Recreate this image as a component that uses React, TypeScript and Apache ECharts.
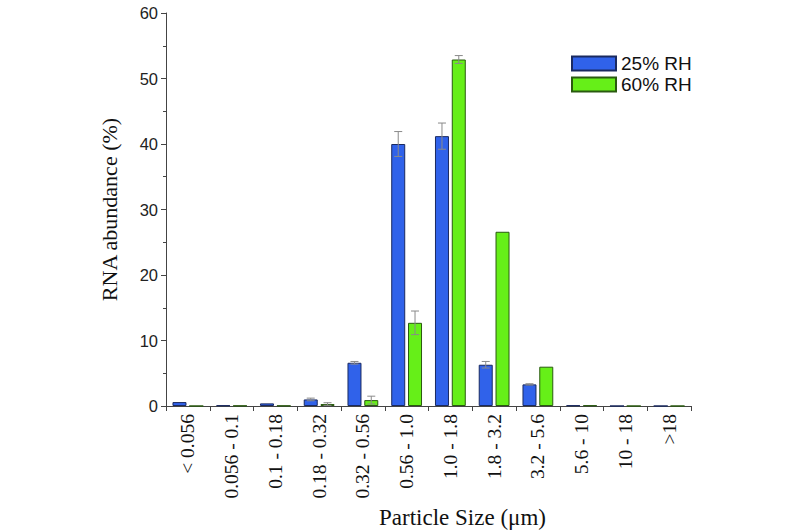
import React, { useEffect, useRef } from "react";
import * as echarts from "echarts";

const categories = ["< 0.056", "0.056 - 0.1", "0.1 - 0.18", "0.18 - 0.32", "0.32 - 0.56", "0.56 - 1.0", "1.0 - 1.8", "1.8 - 3.2", "3.2 - 5.6", "5.6 - 10", "10 - 18", ">18"];
const rh25 = [0.6, 0.1, 0.4, 1.0, 6.6, 40.0, 41.2, 6.3, 3.3, 0.1, 0, 0];
const rh25Err = [0, 0, 0, 0.2, 0.2, 1.9, 2.0, 0.5, 0.1, 0, 0, 0];
const rh60 = [0, 0.05, 0.05, 0.3, 0.9, 12.7, 52.9, 26.6, 6.0, 0.1, 0, 0];
const rh60Err = [0, 0, 0, 0.2, 0.6, 1.8, 0.6, 0, 0, 0, 0, 0];
const seriesNames = ["25% RH", "60% RH"];
const yTicks = { min: 0, max: 60, interval: 10 };

const BAR_W = 0.32;
const BAR_GAP = 0.2;

function errSeries(vals: number[], errs: number[], sign: number) {
  return {
    type: "custom",
    silent: true,
    z: 5,
    data: vals.map((v, i) => [i, v, errs[i]]),
    renderItem: (params: any, api: any) => {
      const idx = api.value(0);
      const v = api.value(1);
      const e = api.value(2);
      if (!e) return null;
      const band = api.size([1, 0])[0];
      const off = (sign * band * BAR_W * (1 + BAR_GAP)) / 2;
      const top = api.coord([idx, v + e]);
      const bot = api.coord([idx, v - e]);
      const x = top[0] + off;
      const cap = 4;
      const style = { stroke: "#8a8a8a", lineWidth: 1 };
      return {
        type: "group",
        children: [
          { type: "line", shape: { x1: x, y1: top[1], x2: x, y2: bot[1] }, style },
          { type: "line", shape: { x1: x - cap, y1: top[1], x2: x + cap, y2: top[1] }, style },
          { type: "line", shape: { x1: x - cap, y1: bot[1], x2: x + cap, y2: bot[1] }, style },
        ],
      };
    },
  };
}

export default function App() {
  const ref = useRef<HTMLDivElement>(null);
  useEffect(() => {
    const chart = echarts.init(ref.current!, null, { renderer: "svg" });
    chart.setOption({
      animation: false,
      backgroundColor: "#ffffff",
      grid: { left: 166, right: 109, top: 13, bottom: 124, outerBoundsMode: "none", containLabel: false },
      legend: {
        orient: "vertical",
        left: 566,
        top: 49,
        itemWidth: 44,
        itemHeight: 14,
        itemGap: 2,
        data: seriesNames,
        icon: "rect",
        textStyle: { fontFamily: "Liberation Sans, Arial, sans-serif", fontSize: 19, color: "#111" },
      },
      xAxis: {
        type: "category",
        data: categories,
        name: "Particle Size (μm)",
        nameLocation: "middle",
        nameGap: 93,
        nameTextStyle: {
          fontFamily: "Liberation Serif, Times New Roman, serif",
          fontSize: 23,
          color: "#111",
          padding: [0, 0, 0, 68],
        },
        axisLine: { lineStyle: { color: "#444", width: 1 } },
        axisTick: { show: true, alignWithLabel: false, length: 5, lineStyle: { color: "#444" } },
        axisLabel: {
          rotate: 90,
          interval: 0,
          margin: 8,
          fontFamily: "Liberation Serif, Times New Roman, serif",
          fontSize: 19.5,
          color: "#111",
        },
      },
      yAxis: {
        type: "value",
        min: yTicks.min,
        max: yTicks.max,
        interval: yTicks.interval,
        name: "RNA abundance (%)",
        nameLocation: "middle",
        nameGap: 46,
        nameTextStyle: { fontFamily: "Liberation Serif, Times New Roman, serif", fontSize: 22, color: "#111" },
        axisLine: { show: true, lineStyle: { color: "#444", width: 1 } },
        axisTick: { show: true, length: 5, lineStyle: { color: "#444" } },
        minorTick: { show: true, splitNumber: 2, length: 3, lineStyle: { color: "#444" } },
        splitLine: { show: false },
        axisLabel: {
          margin: 8,
          fontFamily: "Liberation Sans, Arial, sans-serif",
          fontSize: 16.5,
          color: "#222",
        },
      },
      series: [
        {
          name: seriesNames[0],
          type: "bar",
          data: rh25,
          barWidth: BAR_W * 100 + "%",
          barGap: BAR_GAP * 100 + "%",
          itemStyle: { color: "#3062ea", borderColor: "#1a2a60", borderWidth: 1 },
        },
        {
          name: seriesNames[1],
          type: "bar",
          data: rh60,
          barWidth: BAR_W * 100 + "%",
          barGap: BAR_GAP * 100 + "%",
          itemStyle: { color: "#66ef18", borderColor: "#2a5a10", borderWidth: 1 },
        },
        errSeries(rh25, rh25Err, -1),
        errSeries(rh60, rh60Err, 1),
      ],
    });
    return () => chart.dispose();
  }, []);
  return <div ref={ref} style={{ width: 800, height: 530, position: "absolute", left: 0, top: 0 }} />;
}
